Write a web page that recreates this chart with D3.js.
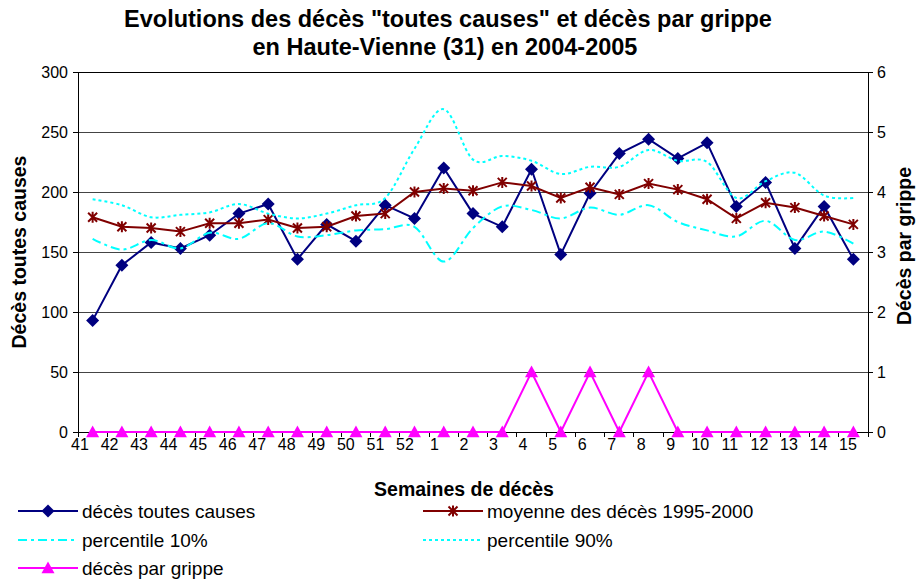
<!DOCTYPE html>
<html>
<head>
<meta charset="utf-8">
<script src="https://cdn.jsdelivr.net/npm/d3@7/dist/d3.min.js"></script>
<style>
  body { margin: 0; background: #fff; }
  text { font-family: Arial, "Liberation Sans", sans-serif; fill: #000; }
  .title { font-size: 23.5px; font-weight: bold; }
  .axis-title { font-size: 19.5px; font-weight: bold; }
  .tick-label { font-size: 16px; }
  .legend-label { font-size: 19px; }
</style>
</head>
<body>
<svg id="chart" width="919" height="580"></svg>
<script>
const weeks = ['41', '42', '43', '44', '45', '46', '47', '48', '49', '50', '51', '52',
  '1', '2', '3', '4', '5', '6', '7', '8', '9', '10', '11', '12', '13', '14', '15'];

const toutesCauses = [93, 139, 158, 153, 164, 182, 190, 144, 173, 159, 189, 178,
  220, 182, 171, 219, 148, 199, 232, 244, 228, 241, 188, 208, 153, 188, 144];

const moyenne = [179, 171, 170, 167, 174, 174, 177, 170, 171, 180, 182, 200,
  203, 201, 208, 205, 195, 204, 198, 207, 202, 194, 178, 191, 187, 180, 173];

const percentile10 = [161, 152, 160, 153, 166, 161, 174, 163, 164, 168, 169, 171,
  142, 170, 188, 185, 178, 187, 181, 189, 175, 168, 163, 176, 160, 167, 157];

const percentile90 = [194, 189, 179, 181, 183, 190, 182, 178, 182, 189, 195, 236,
  269, 227, 230, 226, 215, 221, 221, 235, 226, 225, 195, 209, 216, 197, 195];

const grippe = [0, 0, 0, 0, 0, 0, 0, 0, 0, 0, 0, 0,
  0, 0, 0, 1, 0, 1, 0, 1, 0, 0, 0, 0, 0, 0, 0];

const leftTicks = [0, 50, 100, 150, 200, 250, 300];
const rightTicks = [0, 1, 2, 3, 4, 5, 6];

const plot = { left: 78, right: 868, top: 72, bottom: 432 };

const svg = d3.select('#chart');

const x = d3.scaleBand()
  .domain(weeks)
  .range([plot.left, plot.right]);
// the week labels sit a little left of the points, as in the original
const xLabel = d3.scalePoint()
  .domain(weeks)
  .range([plot.left + 2, plot.right - 20]);
const y = d3.scaleLinear()
  .domain([0, 300])
  .range([plot.bottom, plot.top]);
const y2 = d3.scaleLinear()
  .domain([0, 6])
  .range([plot.bottom, plot.top]);

const cx = d => x(d) + x.bandwidth() / 2;
const midY = (plot.top + plot.bottom) / 2;

// Title
svg.append('text')
  .attr('class', 'title')
  .attr('x', 448)
  .attr('y', 27)
  .attr('text-anchor', 'middle')
  .text('Evolutions des décès "toutes causes" et décès par grippe');
svg.append('text')
  .attr('class', 'title')
  .attr('x', 445)
  .attr('y', 55)
  .attr('text-anchor', 'middle')
  .text('en Haute-Vienne (31) en 2004-2005');

// Gridlines
svg.append('g')
  .selectAll('line')
  .data(leftTicks)
  .join('line')
  .attr('x1', plot.left)
  .attr('x2', plot.right)
  .attr('y1', d => y(d))
  .attr('y2', d => y(d))
  .attr('stroke', d => d === 300 ? '#000' : '#444')
  .attr('stroke-width', 1)
  .attr('shape-rendering', 'crispEdges');

// Left and right axes
const leftAxis = svg.append('g')
  .attr('transform', `translate(${plot.left},0)`)
  .call(d3.axisLeft(y).tickValues(leftTicks).tickSize(5).tickPadding(5));
const rightAxis = svg.append('g')
  .attr('transform', `translate(${plot.right},0)`)
  .call(d3.axisRight(y2).tickValues(rightTicks).tickSize(5).tickPadding(4).tickFormat(d3.format('d')));

[leftAxis, rightAxis].forEach(a => {
  a.attr('font-size', null).attr('font-family', null);
  a.select('.domain').attr('stroke', '#000').attr('shape-rendering', 'crispEdges');
  a.selectAll('.tick line').attr('stroke', '#000').attr('shape-rendering', 'crispEdges');
  a.selectAll('.tick text').attr('class', 'tick-label');
});

// Bottom axis: ticks between the categories, labels under each week
const bottom = svg.append('g');
bottom.append('line')
  .attr('x1', plot.left)
  .attr('x2', plot.right)
  .attr('y1', plot.bottom)
  .attr('y2', plot.bottom)
  .attr('stroke', '#000')
  .attr('shape-rendering', 'crispEdges');
bottom.selectAll('line.tick')
  .data(weeks.concat(['end']))
  .join('line')
  .attr('class', 'tick')
  .attr('x1', d => d === 'end' ? plot.right : x(d))
  .attr('x2', d => d === 'end' ? plot.right : x(d))
  .attr('y1', plot.bottom)
  .attr('y2', plot.bottom + 5)
  .attr('stroke', '#000')
  .attr('shape-rendering', 'crispEdges');
bottom.selectAll('text')
  .data(weeks)
  .join('text')
  .attr('class', 'tick-label')
  .attr('x', d => xLabel(d))
  .attr('y', plot.bottom + 18)
  .attr('text-anchor', 'middle')
  .text(d => d);

// Axis titles
svg.append('text')
  .attr('class', 'axis-title')
  .attr('transform', `translate(26,${midY}) rotate(-90)`)
  .attr('text-anchor', 'middle')
  .text('Décès toutes causes');
svg.append('text')
  .attr('class', 'axis-title')
  .attr('transform', `translate(911,${midY - 6}) rotate(-90)`)
  .attr('text-anchor', 'middle')
  .text('Décès par grippe');
svg.append('text')
  .attr('class', 'axis-title')
  .attr('x', 464)
  .attr('y', 496)
  .attr('text-anchor', 'middle')
  .text('Semaines de décès');

// Markers
function diamond(s) {
  return `M0,${-s}L${s},0L0,${s}L${-s},0Z`;
}
function star(s) {
  return `M${-s},${-s}L${s},${s}M${-s},${s}L${s},${-s}M0,${-s - 1}L0,${s + 1}`;
}
function triangle(s) {
  return `M0,${-s}L${s},${s * 0.8}L${-s},${s * 0.8}Z`;
}

const series = [
  { name: 'décès toutes causes', values: toutesCauses, scale: y, color: '#000080',
    dash: null, curve: d3.curveLinear, marker: 'diamond' },
  { name: 'moyenne des décès 1995-2000', values: moyenne, scale: y, color: '#800000',
    dash: null, curve: d3.curveLinear, marker: 'star' },
  { name: 'percentile 10%', values: percentile10, scale: y, color: '#00FFFF',
    dash: '9,4,3,4', curve: d3.curveCatmullRom.alpha(0), marker: null },
  { name: 'percentile 90%', values: percentile90, scale: y, color: '#00FFFF',
    dash: '3,3', curve: d3.curveCatmullRom.alpha(0), marker: null },
  { name: 'décès par grippe', values: grippe, scale: y2, color: '#FF00FF',
    dash: null, curve: d3.curveLinear, marker: 'triangle' }
];

function drawMarker(g, type, color) {
  if (type === 'diamond') {
    g.append('path').attr('d', diamond(6.5)).attr('fill', color);
  } else if (type === 'star') {
    g.append('path').attr('d', star(4.5)).attr('fill', 'none')
      .attr('stroke', color).attr('stroke-width', 2);
  } else if (type === 'triangle') {
    g.append('path').attr('d', triangle(6.5)).attr('fill', color);
  }
}

series.forEach(s => {
  const line = d3.line()
    .x((d, i) => cx(weeks[i]))
    .y(d => s.scale(d))
    .curve(s.curve);
  svg.append('path')
    .datum(s.values)
    .attr('d', line)
    .attr('fill', 'none')
    .attr('stroke', s.color)
    .attr('stroke-width', 2)
    .attr('stroke-dasharray', s.dash);
  if (s.marker) {
    svg.append('g')
      .selectAll('g')
      .data(s.values)
      .join('g')
      .attr('transform', (d, i) => `translate(${cx(weeks[i])},${s.scale(d)})`)
      .each(function () { drawMarker(d3.select(this), s.marker, s.color); });
  }
});

// Legend
const legendPos = [
  { x: 18, y: 511 }, { x: 423, y: 511 },
  { x: 18, y: 540 }, { x: 423, y: 540 },
  { x: 18, y: 568 }
];
const legendLine = 60;

series.forEach((s, i) => {
  const p = legendPos[i];
  const g = svg.append('g').attr('transform', `translate(${p.x},${p.y})`);
  g.append('line')
    .attr('x1', 0)
    .attr('x2', legendLine)
    .attr('stroke', s.color)
    .attr('stroke-width', 2)
    .attr('stroke-dasharray', s.dash);
  if (s.marker) {
    const m = g.append('g').attr('transform', `translate(${legendLine / 2},0)`);
    drawMarker(m, s.marker, s.color);
  }
  g.append('text')
    .attr('class', 'legend-label')
    .attr('x', legendLine + 4)
    .attr('y', 7)
    .text(s.name);
});
</script>
</body>
</html>
